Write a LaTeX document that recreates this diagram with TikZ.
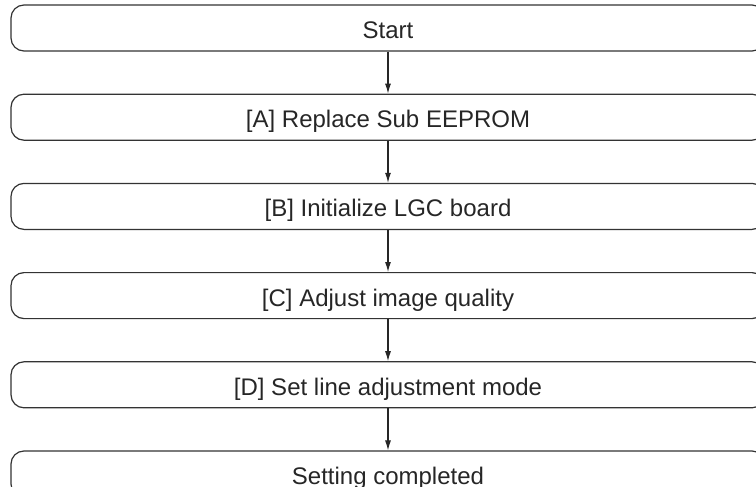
\documentclass[tikz,border=0pt]{standalone}
\usepackage{fontspec}
\setmainfont{Liberation Sans}
\usetikzlibrary{arrows.meta,positioning}

\begin{document}
\begin{tikzpicture}[x=1pt,y=1pt,>={Latex[length=10pt,width=6pt]},
  stepbox/.style={draw=black!80,line width=1.2pt,rounded corners=13pt,
    minimum width=754pt,minimum height=46pt,inner sep=0pt,
    text height=21pt,text depth=0pt,
    text=black!85,font=\fontsize{24}{28}\selectfont},
  flow/.style={->,draw=black!85,line width=1.1pt}]
 \useasboundingbox (0,0) rectangle (756,-487);
 \node[stepbox] (start) at (388,-28) {Start};
 \node[stepbox,below=42pt of start] (subee) {[A] Replace Sub EEPROM};
 \node[stepbox,below=42pt of subee] (lgc) {[B] Initialize LGC board};
 \node[stepbox,below=42pt of lgc] (imgq) {[C] Adjust image quality};
 \node[stepbox,below=42pt of imgq] (lineadj) {[D] Set line adjustment mode};
 \node[stepbox,below=42pt of lineadj] (done) {Setting completed};
 \draw[flow] (start) -- (subee);
 \draw[flow] (subee) -- (lgc);
 \draw[flow] (lgc) -- (imgq);
 \draw[flow] (imgq) -- (lineadj);
 \draw[flow] (lineadj) -- (done);
\end{tikzpicture}
\end{document}
